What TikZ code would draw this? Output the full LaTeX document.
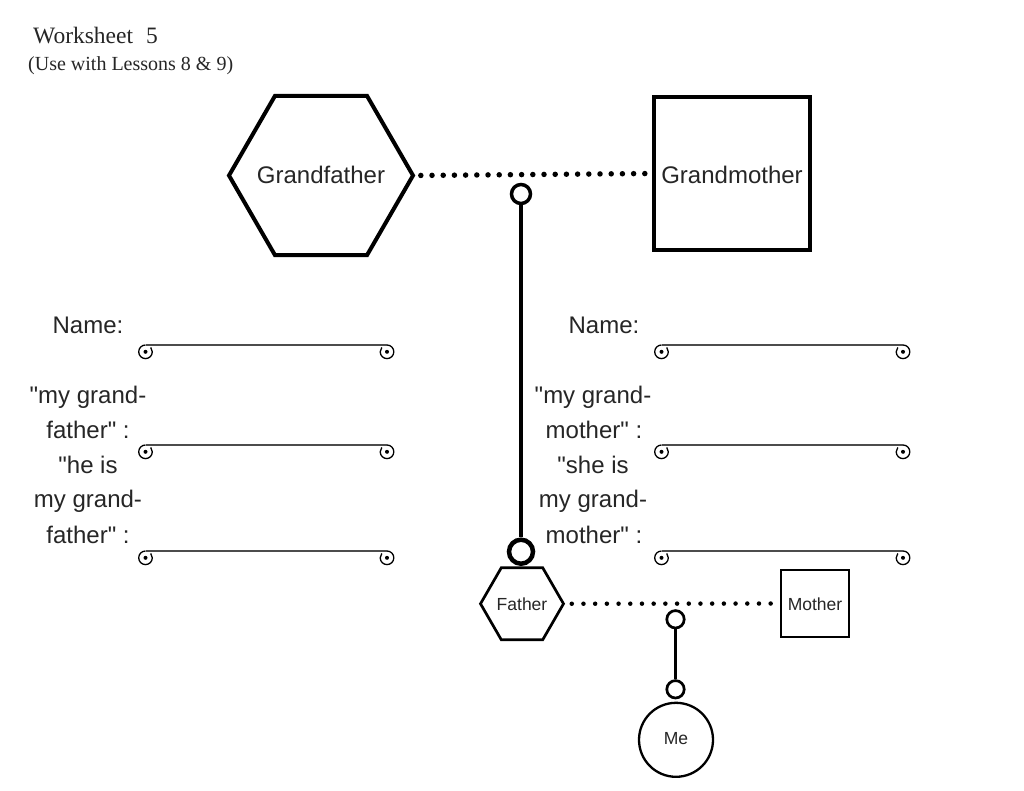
\documentclass[tikz,border=0pt]{standalone}
\usepackage{fontspec}
\setmainfont{Liberation Serif}
\newfontfamily\lsans{Liberation Sans}[Ligatures=TeXOff]
\usetikzlibrary{shapes.geometric}
\begin{document}
\begin{tikzpicture}[x=1pt,y=1pt,
  lbl/.style={text=black!85, font=\lsans\fontsize{24}{28}\selectfont, inner sep=0pt, anchor=base},
  title/.style={text=black!85, inner sep=0pt, anchor=base west},
  hexa/.style={draw, regular polygon, regular polygon sides=6, inner sep=0pt, text=black!85},
  boxa/.style={draw, rectangle, inner sep=0pt, text=black!85},
  ring/.style={draw, circle, inner sep=0pt},
  dotline/.style={line cap=round},
  scrl/.style={draw=black!70, line width=1.6},
  scrc/.style={draw=black, line width=1.3},
  blankline/.pic={
    \draw[scrl] (0,0) -- (241.5,0);
    \draw[scrc] (0,0) arc[start angle=90, end angle=400, radius=6.8];
    \fill (0,-6.8) circle (2);
    \draw[scrc] (241.5,0) arc[start angle=90, end angle=-220, radius=6.8];
    \fill (241.5,-6.8) circle (2);
  }]
\fill[white] (0,0) rectangle (1024,-790);
\useasboundingbox (0,0) rectangle (1024,-790);

% titles
\node[title, font=\fontsize{23.5}{28}\selectfont] (t1) at (33,-43) {Worksheet\hspace{13pt}5};
\node[title, font=\fontsize{20}{24}\selectfont] (t2) at (28,-70) {(Use with Lessons 8 \& 9)};

% grandparents
\node[hexa, line width=4, minimum size=184, font=\lsans\fontsize{24}{28}\selectfont, text height=15, text depth=0] (gf) at (321,-175.5) {\makebox[0pt]{Grandfather}};
\node[boxa, line width=4, minimum width=156, minimum height=153, font=\lsans\fontsize{24}{28}\selectfont, text height=19, text depth=0] (gm) at (732,-173.5) {Grandmother};
\draw[dotline, line width=5.5, dash pattern=on 0pt off 11.2pt, shorten <=5.5pt, shorten >=5pt] (gf.east) -- (gm.west);

% descent line
\node[ring, line width=3.5, minimum size=19] (c1) at (521,-194) {};
\node[ring, line width=4.5, minimum size=24] (c2) at (521,-551.7) {};
\draw[line width=4.2] (c1) -- (c2);

% parents
\node[hexa, line width=2.7, minimum size=83, font=\lsans\fontsize{17.5}{21}\selectfont, text height=12.5, text depth=0] (fa) at (522,-603.75) {\makebox[0pt]{Father}};
\node[boxa, line width=2.3, minimum width=68, minimum height=67, font=\lsans\fontsize{17.5}{21}\selectfont, text height=13, text depth=0] (mo) at (815,-603.5) {Mother};
\draw[dotline, line width=4.5, dash pattern=on 0pt off 11.7pt, shorten <=6.7pt, shorten >=7.5pt] (fa.east) -- (mo.west);

\node[ring, line width=2.7, minimum size=17.4] (c3) at (675.5,-619.3) {};
\node[ring, line width=2.7, minimum size=17.4] (c4) at (675.5,-689.3) {};
\draw[line width=3] (c3) -- (c4);
\node[ring, line width=2.3, minimum size=74, font=\lsans\fontsize{17.5}{21}\selectfont, text=black!85, text height=9, text depth=0] (me) at (676,-739.8) {Me};

% left labels
\node[lbl] (l1) at (88,-333) {Name:};
\node[lbl] (l2) at (88,-403) {"my grand-};
\node[lbl] (l3) at (88,-438) {father" :};
\node[lbl] (l4) at (88,-473) {"he is};
\node[lbl] (l5) at (88,-507) {my grand-};
\node[lbl] (l6) at (88,-543) {father" :};

% right labels
\node[lbl] (r1) at (604,-333) {Name:};
\node[lbl] (r2) at (593,-403) {"my grand-};
\node[lbl] (r3) at (594,-438) {mother" :};
\node[lbl] (r4) at (593,-473) {"she is};
\node[lbl] (r5) at (593,-507) {my grand-};
\node[lbl] (r6) at (594,-543) {mother" :};

% blank lines
\pic at (145.5,-345) {blankline};
\pic at (145.5,-445) {blankline};
\pic at (145.5,-551) {blankline};
\pic at (661.5,-345) {blankline};
\pic at (661.5,-445) {blankline};
\pic at (661.5,-551) {blankline};
\end{tikzpicture}
\end{document}
